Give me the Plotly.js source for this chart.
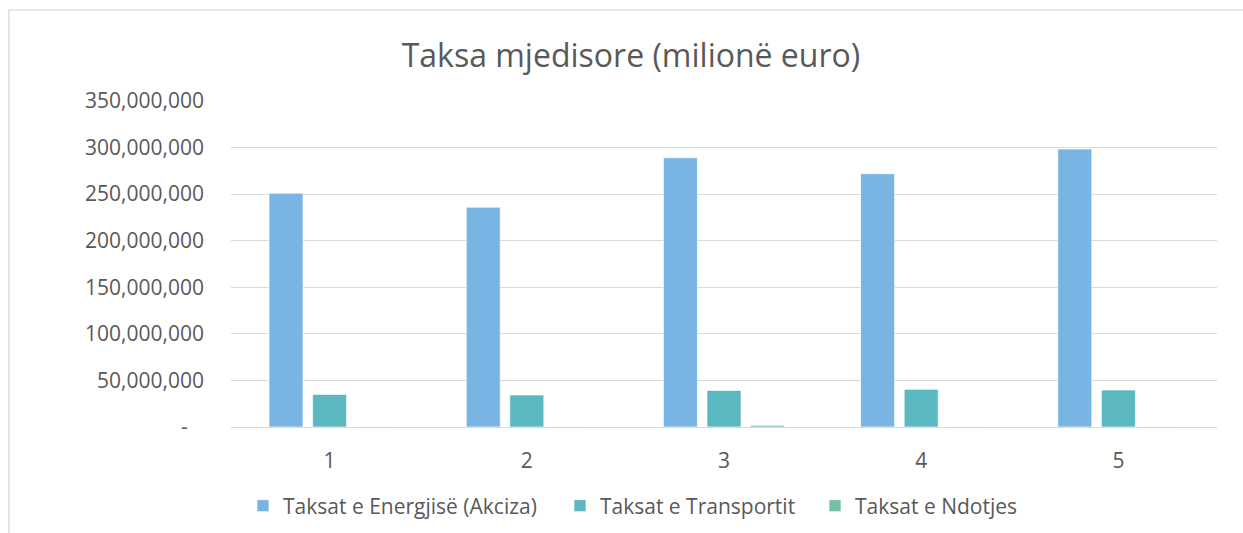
<!DOCTYPE html>
<html>
<head>
<meta charset="utf-8">
<script src="https://cdn.plot.ly/plotly-3.0.1.min.js"></script>
<style>html,body{margin:0;padding:0;background:#fff;}#chart{width:1243px;height:533px;}</style>
</head>
<body>
<div id="chart"></div>
<script>
const categories = ['1', '2', '3', '4', '5'];
const energjise = [251000000, 236000000, 289000000, 272000000, 298500000];
const transportit = [35000000, 34300000, 39300000, 40400000, 39700000];
const ndotjes = [400000, 300000, 1800000, 400000, 400000];
const seriesNames = ['Taksat e Energjisë (Akciza)', 'Taksat e Transportit', 'Taksat e Ndotjes'];
const yTickVals = [0, 50000000, 100000000, 150000000, 200000000, 250000000, 300000000, 350000000];
const yTickText = ['-\u00a0\u00a0\u00a0', '50,000,000', '100,000,000', '150,000,000', '200,000,000', '250,000,000', '300,000,000', '350,000,000'];

const colors = ['#78B5E3', '#5BB7C0', '#74BFA7'];
const font = "'Open Sans', 'Noto Sans', sans-serif";
const grey = '#595959';
const legendIds = ['legend', 'legend2', 'legend3'];
const legendX = [0.1955, 0.4505, 0.6557];

const data = [energjise, transportit, ndotjes].map((vals, i) => ({
  type: 'bar',
  name: seriesNames[i],
  x: categories,
  y: vals,
  legend: legendIds[i],
  marker: {color: colors[i], line: {color: 'rgba(255,255,255,0.9)', width: 0.75}},
  hoverinfo: 'x+y+name'
}));

function legendCfg(x) {
  return {
    orientation: 'h',
    x: x, xanchor: 'left', xref: 'container',
    y: 0.0507, yref: 'container', yanchor: 'middle',
    font: {family: font, size: 21, color: grey},
    bgcolor: 'rgba(0,0,0,0)',
    borderwidth: 0
  };
}

const layout = {
  width: 1243,
  height: 533,
  margin: {l: 231, r: 26, t: 101, b: 106, autoexpand: false},
  paper_bgcolor: '#ffffff',
  plot_bgcolor: '#ffffff',
  font: {family: font, color: grey, size: 21},
  title: {
    text: 'Taksa mjedisore (milionë euro)',
    font: {family: font, size: 32, color: grey},
    x: 0.5076, xref: 'container', xanchor: 'center',
    y: 0.895, yref: 'container', yanchor: 'middle'
  },
  barmode: 'group',
  bargap: 0.337,
  bargroupgap: 0.22,
  xaxis: {
    type: 'category',
    showgrid: false,
    zeroline: false,
    showline: false,
    ticks: '',
    tickfont: {family: font, size: 21, color: grey},
    ticklabelstandoff: 19
  },
  yaxis: {
    range: [0, 350000000],
    tickvals: yTickVals,
    ticktext: yTickText,
    showgrid: true,
    gridcolor: '#d9d9d9',
    gridwidth: 1.3,
    zeroline: true,
    zerolinecolor: '#d9d9d9',
    zerolinewidth: 1.3,
    showline: false,
    ticks: '',
    tickfont: {family: font, size: 21, color: grey},
    ticklabelstandoff: 26
  },
  showlegend: true,
  legend: legendCfg(legendX[0]),
  legend2: legendCfg(legendX[1]),
  legend3: legendCfg(legendX[2]),
  shapes: [{
    type: 'path',
    xref: 'paper', yref: 'paper',
    path: 'M -0.2252,-0.5 L -0.2252,1.279 L 1.1,1.279',
    line: {color: '#d9d9d9', width: 1.3},
    layer: 'below'
  }]
};

Plotly.newPlot('chart', data, layout, {displayModeBar: false, responsive: false});
</script>
</body>
</html>
